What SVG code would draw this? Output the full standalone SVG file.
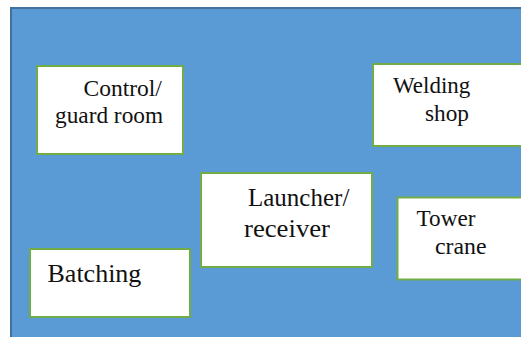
<svg xmlns="http://www.w3.org/2000/svg" width="521" height="337" viewBox="0 0 521 337">
<style>
.bg{fill:#5B9BD5;stroke:#41719C;stroke-width:2}
.box{fill:#FFFFFF;stroke:#70AD47;stroke-width:2}
.t{fill:#111111;font-family:"Liberation Serif","Times New Roman",serif}
</style>
<rect width="521" height="337" fill="#FFFFFF"/>
<rect class="bg" x="11" y="8" width="520" height="340"/>
<g id="control">
<rect class="box" x="37" y="66" width="146" height="88"/>
<text class="t" x="83.5" y="96" font-size="23.5">Control/</text>
<text class="t" x="55" y="123" font-size="23.3">guard room</text>
</g>
<g id="welding">
<rect class="box" x="373" y="64" width="160" height="82"/>
<text class="t" x="393" y="93" font-size="23">Welding</text>
<text class="t" x="425" y="121" font-size="23.3">shop</text>
</g>
<g id="launcher">
<rect class="box" x="201" y="173" width="171" height="94"/>
<text class="t" x="248" y="205.5" font-size="25">Launcher/</text>
<text class="t" x="244" y="236.5" font-size="25" textLength="86" lengthAdjust="spacingAndGlyphs">receiver</text>
</g>
<g id="tower">
<rect class="box" x="397.5" y="197.5" width="140" height="82"/>
<text class="t" x="416.5" y="226" font-size="23.2">Tower</text>
<text class="t" x="435" y="253.5" font-size="23.8">crane</text>
</g>
<g id="batching">
<rect class="box" x="30" y="249" width="160" height="68"/>
<text class="t" x="47.5" y="281.5" font-size="26">Batching</text>
</g>
<g id="connectors"></g>
</svg>
